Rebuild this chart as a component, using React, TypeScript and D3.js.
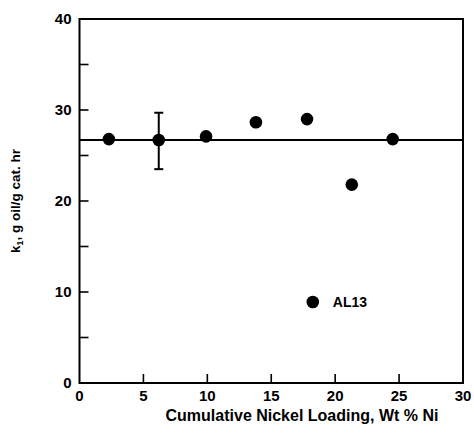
import * as d3 from "d3";
import { useEffect, useRef } from "react";

// nickel loading (wt % Ni) and k1 values
const loading = [2.3, 6.2, 9.9, 13.8, 17.8, 21.3, 24.5];
const k1 = [26.8, 26.7, 27.1, 28.65, 29.0, 21.8, 26.8];
const errLow = [null, 23.5, null, null, null, null, null];
const errHigh = [null, 29.7, null, null, null, null, null];

const outlierX = [18.25];
const outlierY = [8.9];
const outlierLabel = ["AL13"];

const fitLevel = 26.7;

const xTicks = [0, 5, 10, 15, 20, 25, 30];
const yTicks = [0, 10, 20, 30, 40];
const yMinorTicks = [5, 15, 25, 35];

export default function App() {
  const ref = useRef<SVGSVGElement>(null);

  useEffect(() => {
    const width = 474;
    const height = 433;
    const font = "'Liberation Sans', Arial, Helvetica, sans-serif";

    d3.select(ref.current).selectAll("*").remove();

    const svg = d3
      .select(ref.current)
      .attr("width", width)
      .attr("height", height);

    const x = d3.scaleLinear().domain([0, 30]).range([79.5, 463]);
    const y = d3.scaleLinear().domain([0, 40]).range([383, 19]);

    /* ---------------- FRAME ---------------- */
    svg.append("rect")
      .attr("x", x(0))
      .attr("y", y(40))
      .attr("width", x(30) - x(0))
      .attr("height", y(0) - y(40))
      .attr("fill", "none")
      .attr("stroke", "#000")
      .attr("stroke-width", 2);

    // inward ticks
    svg.selectAll("line.ytick")
      .data([...yTicks.slice(1, -1), ...yMinorTicks])
      .enter()
      .append("line")
      .attr("class", "ytick")
      .attr("x1", x(0))
      .attr("x2", x(0) + 9)
      .attr("y1", d => y(d))
      .attr("y2", d => y(d))
      .attr("stroke", "#000")
      .attr("stroke-width", 1.6);

    svg.selectAll("line.xtick")
      .data(xTicks.slice(1, -1))
      .enter()
      .append("line")
      .attr("class", "xtick")
      .attr("x1", d => x(d))
      .attr("x2", d => x(d))
      .attr("y1", y(0))
      .attr("y2", y(0) - 9)
      .attr("stroke", "#000")
      .attr("stroke-width", 1.6);

    /* ---------------- TICK LABELS ---------------- */
    svg.selectAll("text.ylab")
      .data(yTicks)
      .enter()
      .append("text")
      .attr("class", "ylab")
      .attr("x", x(0) - 8)
      .attr("y", d => y(d))
      .attr("dy", "0.36em")
      .attr("text-anchor", "end")
      .attr("font-family", font)
      .attr("font-weight", "bold")
      .attr("font-size", 15)
      .text(d => d);

    svg.selectAll("text.xlab")
      .data(xTicks)
      .enter()
      .append("text")
      .attr("class", "xlab")
      .attr("x", d => x(d))
      .attr("y", y(0) + 18)
      .attr("text-anchor", "middle")
      .attr("font-family", font)
      .attr("font-weight", "bold")
      .attr("font-size", 15)
      .text(d => d);

    /* ---------------- AXIS TITLES ---------------- */
    svg.append("text")
      .attr("x", 302)
      .attr("y", 421)
      .attr("text-anchor", "middle")
      .attr("font-family", font)
      .attr("font-weight", "bold")
      .attr("font-size", 16)
      .text("Cumulative Nickel Loading, Wt % Ni");

    const ytitle = svg.append("text")
      .attr("transform", `translate(20, ${(y(0) + y(40)) / 2}) rotate(-90)`)
      .attr("text-anchor", "middle")
      .attr("font-family", font)
      .attr("font-weight", "bold")
      .attr("font-size", 13.5);
    ytitle.append("tspan").text("k");
    ytitle.append("tspan").attr("font-size", 9).attr("dy", 3).text("1");
    ytitle.append("tspan").attr("dy", -3).text(", g oil/g cat. hr");

    /* ---------------- FIT LINE ---------------- */
    svg.append("line")
      .attr("x1", x(0))
      .attr("x2", x(30))
      .attr("y1", y(fitLevel))
      .attr("y2", y(fitLevel))
      .attr("stroke", "#000")
      .attr("stroke-width", 2);

    /* ---------------- ERROR BARS ---------------- */
    const errIdx = loading.map((_, i) => i).filter(i => errLow[i] != null);
    errIdx.forEach(i => {
      const cx = x(loading[i]);
      const lo = y(errLow[i] as number);
      const hi = y(errHigh[i] as number);
      svg.append("line")
        .attr("x1", cx).attr("x2", cx).attr("y1", lo).attr("y2", hi)
        .attr("stroke", "#000").attr("stroke-width", 2);
      [lo, hi].forEach(v => {
        svg.append("line")
          .attr("x1", cx - 4.5).attr("x2", cx + 4.5).attr("y1", v).attr("y2", v)
          .attr("stroke", "#000").attr("stroke-width", 2);
      });
    });

    /* ---------------- POINTS ---------------- */
    svg.selectAll("circle.pt")
      .data(loading.map((v, i) => [v, k1[i]]))
      .enter()
      .append("circle")
      .attr("class", "pt")
      .attr("cx", d => x(d[0]))
      .attr("cy", d => y(d[1]))
      .attr("r", 6.3)
      .attr("fill", "#000");

    svg.selectAll("circle.out")
      .data(outlierX.map((v, i) => [v, outlierY[i]]))
      .enter()
      .append("circle")
      .attr("class", "out")
      .attr("cx", d => x(d[0]))
      .attr("cy", d => y(d[1]))
      .attr("r", 6.3)
      .attr("fill", "#000");

    svg.selectAll("text.outlab")
      .data(outlierLabel)
      .enter()
      .append("text")
      .attr("class", "outlab")
      .attr("x", (_, i) => x(outlierX[i]) + 20)
      .attr("y", (_, i) => y(outlierY[i]))
      .attr("dy", "0.36em")
      .attr("font-family", font)
      .attr("font-weight", "bold")
      .attr("font-size", 14)
      .text(d => d);
  }, []);

  return (
    <div style={{ position: "absolute", left: 0, top: 0, background: "#fff" }}>
      <svg ref={ref} style={{ display: "block" }} />
    </div>
  );
}
